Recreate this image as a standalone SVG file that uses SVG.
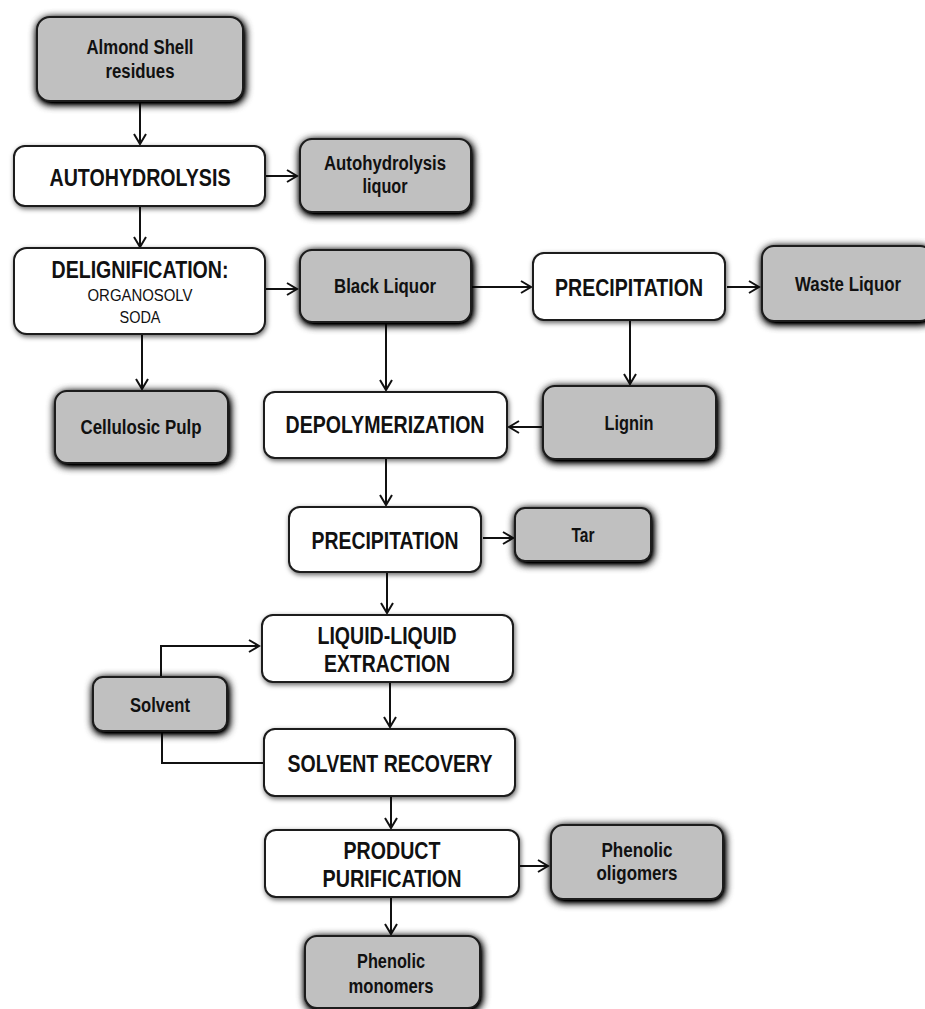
<svg xmlns="http://www.w3.org/2000/svg" width="925" height="1009" viewBox="0 0 925 1009">
<defs>
<filter id="shG" x="-20%" y="-30%" width="140%" height="160%">
<feGaussianBlur in="SourceAlpha" stdDeviation="4"/>
<feOffset dx="1" dy="1.5" result="b"/>
<feFlood flood-color="#000" flood-opacity="0.9"/>
<feComposite in2="b" operator="in"/>
<feComponentTransfer><feFuncA type="linear" slope="1.8"/></feComponentTransfer>
<feMerge><feMergeNode/><feMergeNode in="SourceGraphic"/></feMerge>
</filter>
<filter id="shW" x="-20%" y="-30%" width="140%" height="160%">
<feGaussianBlur in="SourceAlpha" stdDeviation="2.5"/>
<feOffset dx="1" dy="1.5" result="b"/>
<feFlood flood-color="#000" flood-opacity="0.6"/>
<feComposite in2="b" operator="in"/>
<feMerge><feMergeNode/><feMergeNode in="SourceGraphic"/></feMerge>
</filter>
<marker id="arr" markerUnits="userSpaceOnUse" markerWidth="14" markerHeight="16" refX="11" refY="7" orient="auto" viewBox="0 0 14 14">
<path d="M1,1 L11,7 L1,13" fill="none" stroke="#111" stroke-width="2"/>
</marker>
</defs>
<style>
.g{fill:#c0c0c0;stroke:#1a1a1a;stroke-width:2;filter:url(#shG)}
.w{fill:#fff;stroke:#1a1a1a;stroke-width:2;filter:url(#shW)}
text{font-family:"Liberation Sans Narrow","Liberation Sans",Arial,sans-serif;font-weight:bold;fill:#111;text-anchor:middle}
.h{font-size:23px}
.s{font-size:20px}
.r{font-size:16px;font-weight:normal}
.c{fill:none;stroke:#111;stroke-width:2}
</style>
<rect width="925" height="1009" fill="#fff"/>
<g id="connectors">
<path class="c" d="M140,101 V144" marker-end="url(#arr)"/>
<path class="c" d="M266,176 H297" marker-end="url(#arr)"/>
<path class="c" d="M140,206 V247" marker-end="url(#arr)"/>
<path class="c" d="M266,289 H297" marker-end="url(#arr)"/>
<path class="c" d="M142,335 V389" marker-end="url(#arr)"/>
<path class="c" d="M471,287 H531" marker-end="url(#arr)"/>
<path class="c" d="M727,287 H759" marker-end="url(#arr)"/>
<path class="c" d="M630,320 V384" marker-end="url(#arr)"/>
<path class="c" d="M543,427 H509" marker-end="url(#arr)"/>
<path class="c" d="M386,322 V390" marker-end="url(#arr)"/>
<path class="c" d="M386,458 V505" marker-end="url(#arr)"/>
<path class="c" d="M483,538 H513" marker-end="url(#arr)"/>
<path class="c" d="M387,572 V613" marker-end="url(#arr)"/>
<path class="c" d="M161,677 V646 H259" marker-end="url(#arr)"/>
<path class="c" d="M264,763 H162 V731"/>
<path class="c" d="M390,682 V727" marker-end="url(#arr)"/>
<path class="c" d="M391,796 V828" marker-end="url(#arr)"/>
<path class="c" d="M520,866 H548" marker-end="url(#arr)"/>
<path class="c" d="M391,898 V934" marker-end="url(#arr)"/>
</g>
<g id="almond"><rect class="g" x="37" y="17" width="206" height="84" rx="13"/>
<text class="s" x="140" y="54" textLength="107" lengthAdjust="spacingAndGlyphs">Almond Shell</text>
<text class="s" x="140" y="78" textLength="69" lengthAdjust="spacingAndGlyphs">residues</text></g>
<g id="autohydrolysis"><rect class="w" x="14" y="146" width="251" height="60" rx="11"/>
<text class="h" x="140" y="186" textLength="181" lengthAdjust="spacingAndGlyphs">AUTOHYDROLYSIS</text></g>
<g id="autoliquor"><rect class="g" x="300" y="139" width="171" height="73" rx="12"/>
<text class="s" x="385" y="170" textLength="122" lengthAdjust="spacingAndGlyphs">Autohydrolysis</text>
<text class="s" x="385" y="193" textLength="45" lengthAdjust="spacingAndGlyphs">liquor</text></g>
<g id="delignification"><rect class="w" x="14" y="248" width="251" height="86" rx="13"/>
<text class="h" x="140" y="278" textLength="177" lengthAdjust="spacingAndGlyphs">DELIGNIFICATION:</text>
<text class="r" x="140" y="301" textLength="105" lengthAdjust="spacingAndGlyphs">ORGANOSOLV</text>
<text class="r" x="140" y="323" textLength="41" lengthAdjust="spacingAndGlyphs">SODA</text></g>
<g id="blackliquor"><rect class="g" x="300" y="250" width="171" height="72" rx="12"/>
<text class="s" x="385" y="293" textLength="102" lengthAdjust="spacingAndGlyphs">Black Liquor</text></g>
<g id="cellulosic"><rect class="g" x="55" y="391" width="173" height="72" rx="12"/>
<text class="s" x="141" y="434" textLength="121" lengthAdjust="spacingAndGlyphs">Cellulosic Pulp</text></g>
<g id="precipitation1"><rect class="w" x="533" y="253" width="192" height="67" rx="11"/>
<text class="h" x="629" y="296" textLength="148" lengthAdjust="spacingAndGlyphs">PRECIPITATION</text></g>
<g id="waste"><rect class="g" x="762" y="246" width="170" height="75" rx="12"/>
<text class="s" x="848" y="291" textLength="106" lengthAdjust="spacingAndGlyphs">Waste Liquor</text></g>
<g id="lignin"><rect class="g" x="543" y="386" width="173" height="73" rx="12"/>
<text class="s" x="629" y="430" textLength="49" lengthAdjust="spacingAndGlyphs">Lignin</text></g>
<g id="depolymerization"><rect class="w" x="264" y="392" width="243" height="66" rx="11"/>
<text class="h" x="385" y="433" textLength="199" lengthAdjust="spacingAndGlyphs">DEPOLYMERIZATION</text></g>
<g id="precipitation2"><rect class="w" x="289" y="507" width="192" height="65" rx="11"/>
<text class="h" x="385" y="549" textLength="147" lengthAdjust="spacingAndGlyphs">PRECIPITATION</text></g>
<g id="tar"><rect class="g" x="515" y="508" width="136" height="53" rx="10"/>
<text class="s" x="583" y="542" textLength="23" lengthAdjust="spacingAndGlyphs">Tar</text></g>
<g id="lle"><rect class="w" x="262" y="615" width="251" height="67" rx="11"/>
<text class="h" x="387" y="644" textLength="139" lengthAdjust="spacingAndGlyphs">LIQUID-LIQUID</text>
<text class="h" x="387" y="672" textLength="126" lengthAdjust="spacingAndGlyphs">EXTRACTION</text></g>
<g id="solvent"><rect class="g" x="93" y="677" width="134" height="54" rx="10"/>
<text class="s" x="160" y="712" textLength="60" lengthAdjust="spacingAndGlyphs">Solvent</text></g>
<g id="solventrecovery"><rect class="w" x="264" y="729" width="251" height="67" rx="11"/>
<text class="h" x="390" y="772" textLength="205" lengthAdjust="spacingAndGlyphs">SOLVENT RECOVERY</text></g>
<g id="purification"><rect class="w" x="265" y="830" width="254" height="67" rx="11"/>
<text class="h" x="392" y="859" textLength="97" lengthAdjust="spacingAndGlyphs">PRODUCT</text>
<text class="h" x="392" y="887" textLength="139" lengthAdjust="spacingAndGlyphs">PURIFICATION</text></g>
<g id="oligomers"><rect class="g" x="551" y="825" width="172" height="74" rx="12"/>
<text class="s" x="637" y="857" textLength="71" lengthAdjust="spacingAndGlyphs">Phenolic</text>
<text class="s" x="637" y="880" textLength="81" lengthAdjust="spacingAndGlyphs">oligomers</text></g>
<g id="monomers"><rect class="g" x="305" y="936" width="175" height="72" rx="12"/>
<text class="s" x="391" y="968" textLength="68" lengthAdjust="spacingAndGlyphs">Phenolic</text>
<text class="s" x="391" y="993" textLength="85" lengthAdjust="spacingAndGlyphs">monomers</text></g>
</svg>
